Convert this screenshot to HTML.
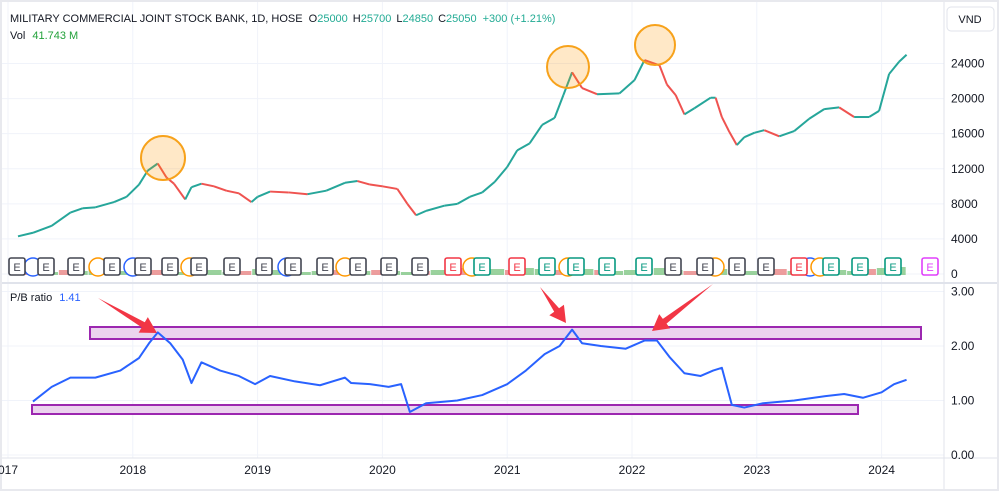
<!DOCTYPE html>
<html><head><meta charset="utf-8"><style>
body{margin:0;background:#fff;font-family:"Liberation Sans",sans-serif}
svg{display:block}
text{font-family:"Liberation Sans",sans-serif}
</style></head><body>
<svg id="c" width="999" height="491" viewBox="0 0 999 491">
<rect x="0" y="0" width="999" height="491" fill="#fff"/>
<g id="grid"></g>
<g id="vol"></g>
<g id="bands"></g>
<g id="price"></g>
<g id="pb"></g>
<g id="marks"></g>
<line x1="0" y1="283" x2="999" y2="283" stroke="#e0e3eb" stroke-width="2"/>
<line x1="944" y1="0" x2="944" y2="491" stroke="#e0e3eb"/>
<line x1="0" y1="458" x2="999" y2="458" stroke="#e0e3eb"/>
<rect x="0.5" y="0.5" width="998" height="490" fill="none" stroke="#e8e9ee" stroke-width="3"/>
<text x="10" y="22" font-size="11" fill="#131722">MILITARY COMMERCIAL JOINT STOCK BANK, 1D, HOSE <tspan dx="3">O</tspan><tspan fill="#22ab94">25000</tspan><tspan dx="5">H</tspan><tspan fill="#22ab94">25700</tspan><tspan dx="5">L</tspan><tspan fill="#22ab94">24850</tspan><tspan dx="5">C</tspan><tspan fill="#22ab94">25050</tspan><tspan dx="6" fill="#22ab94">+300 (+1.21%)</tspan></text>
<text x="10" y="39" font-size="11" fill="#131722">Vol <tspan dx="4" fill="#22a13a">41.743 M</tspan></text>
<text x="10" y="301" font-size="11" fill="#131722">P/B ratio <tspan dx="4" fill="#2962ff">1.41</tspan></text>
<rect x="947" y="7" width="47" height="24" rx="4" fill="#fff" stroke="#e0e3eb"/>
<text x="970" y="23" font-size="11" text-anchor="middle" fill="#131722">VND</text>
<g id="axes"></g>
</svg>
<script>
const NS="http://www.w3.org/2000/svg";
const priceDates=[2017.08,2017.2,2017.35,2017.5,2017.6,2017.7,2017.85,2017.95,2018.05,2018.12,2018.2,2018.27,2018.33,2018.42,2018.47,2018.55,2018.65,2018.75,2018.85,2018.95,2019.0,2019.1,2019.25,2019.4,2019.55,2019.7,2019.8,2019.9,2020.0,2020.12,2020.2,2020.27,2020.35,2020.5,2020.6,2020.7,2020.8,2020.9,2021.0,2021.08,2021.18,2021.28,2021.38,2021.45,2021.52,2021.6,2021.72,2021.9,2022.02,2022.1,2022.22,2022.28,2022.35,2022.42,2022.5,2022.63,2022.67,2022.72,2022.78,2022.84,2022.9,2022.98,2023.06,2023.18,2023.3,2023.42,2023.54,2023.66,2023.78,2023.9,2023.98,2024.06,2024.14,2024.2];
const priceVals=[4300,4700,5500,7000,7500,7600,8200,8800,10200,11800,12600,11000,10300,8500,9900,10300,10000,9500,9200,8200,8800,9400,9300,9100,9500,10400,10600,10200,10000,9700,8000,6700,7200,7800,8000,8800,9300,10500,12200,14100,14900,17000,17800,20400,23000,21200,20500,20600,22100,24400,23800,21600,20400,18200,18900,20100,20100,17900,16200,14700,15600,16100,16400,15700,16300,17700,18800,19000,17900,17900,18600,22800,24200,25000];
const pbDates=[2017.2,2017.35,2017.5,2017.7,2017.9,2018.05,2018.13,2018.2,2018.3,2018.4,2018.47,2018.55,2018.7,2018.85,2018.98,2019.1,2019.3,2019.5,2019.7,2019.75,2019.9,2020.05,2020.15,2020.22,2020.35,2020.5,2020.6,2020.8,2021.0,2021.15,2021.3,2021.42,2021.52,2021.6,2021.75,2021.95,2022.1,2022.2,2022.3,2022.42,2022.55,2022.65,2022.72,2022.8,2022.9,2023.05,2023.3,2023.55,2023.7,2023.85,2024.0,2024.1,2024.2];
const pbVals=[0.98,1.25,1.42,1.42,1.55,1.78,2.05,2.25,2.05,1.75,1.32,1.7,1.55,1.45,1.3,1.45,1.35,1.28,1.42,1.32,1.3,1.25,1.3,0.79,0.95,0.98,1.0,1.1,1.3,1.55,1.85,2.0,2.3,2.05,2.0,1.95,2.1,2.1,1.8,1.5,1.45,1.55,1.6,0.92,0.87,0.95,1.0,1.08,1.12,1.05,1.15,1.3,1.38];
const priceTicks=[0,4000,8000,12000,16000,20000,24000];
const pbTicks=[0,1,2,3];
const years=[2017,2018,2019,2020,2021,2022,2023,2024];
const volVals=[3,4,3,5,4,6,5,4,3,5,4,3,4,5,3,4,6,5,4,3,4,5,6,4,5,4,3,4,5,6,7,8,6,5,7,6,5,4,6,5,4,5,6,7,5,4,5,6,5,4,5,6,4,5,6,5,4,6,7,8];
const x=t=>8+(t-2017)*124.8;
const yP=v=>274-v*0.00877;
const yB=v=>455-v*54.5;
function el(tag,attrs,parent,txt){const e=document.createElementNS(NS,tag);for(const k in attrs)e.setAttribute(k,attrs[k]);if(txt!==undefined)e.textContent=txt;document.getElementById(parent).appendChild(e);return e;}
years.forEach(yr=>{
 const l=el('line',{x1:x(yr),x2:x(yr),y1:0,y2:458,stroke:'#f0f3fa'},'grid');
 
 
 const t=el('text',{x:x(yr),y:474,'font-size':12,'text-anchor':'middle',fill:'#131722'},'axes',String(yr).slice(yr===2017?1:0));
 
 
});
priceTicks.forEach(v=>{
 el('line',{x1:0,x2:944,y1:yP(v),y2:yP(v),stroke:'#f0f3fa'},'grid');
 const t=el('text',{x:951,y:yP(v)+4,'font-size':12,fill:'#131722'},'axes',String(v));
 
 
});
pbTicks.forEach(v=>{
 el('line',{x1:0,x2:944,y1:yB(v),y2:yB(v),stroke:'#f0f3fa'},'grid');
 const t=el('text',{x:951,y:yB(v)+4,'font-size':12,fill:'#131722'},'axes',v.toFixed(2));
 
 
});
volVals.forEach((v,i)=>{
 const t=2017.05+i*(2024.2-2017.05)/volVals.length;
 const b=el('rect',{x:x(t),y:275-v,width:14,height:v,fill:i%3?'#6fbf73':'#e57373',opacity:0.7},'vol');
 
 
});
for(let i=1;i<priceDates.length;i++){
 const up=priceVals[i]>=priceVals[i-1];
 const s=el('line',{x1:x(priceDates[i-1]),y1:yP(priceVals[i-1]),x2:x(priceDates[i]),y2:yP(priceVals[i]),stroke:up?'#26a69a':'#ef5350','stroke-width':2},'price');
 
 
}
const pl=el('polyline',{points:pbDates.map((d,i)=>x(d)+','+yB(pbVals[i])).join(' '),fill:'none',stroke:'#2962ff','stroke-width':2,'stroke-linejoin':'round'},'pb');


[[163,158,22],[568,67,21],[655,45,20]].forEach(c=>{
 const e=el('circle',{cx:c[0],cy:c[1],r:c[2],fill:'rgba(255,152,0,0.22)',stroke:'#f7a21b','stroke-width':2},'marks');
 
 
});
[[90,327,831,12],[32,405,826,9]].forEach(r=>{
 const e=el('rect',{x:r[0],y:r[1],width:r[2],height:r[3],fill:'#ebd3ee',stroke:'#9c27b0','stroke-width':2},'bands');
 
 
});
[[98,298,157,333],[540,287,566,323],[713,284,652,331]].forEach(a=>{
 const dx=a[2]-a[0],dy=a[3]-a[1],L=Math.hypot(dx,dy),ux=dx/L,uy=dy/L,px=-uy,py=ux;
 const bx=a[2]-ux*16,by=a[3]-uy*16;
 const pts=[[a[0],a[1]],[bx+px*3,by+py*3],[bx+px*9,by+py*9],[a[2],a[3]],[bx-px*9,by-py*9],[bx-px*3,by-py*3]];
 const e=el('polygon',{points:pts.map(p=>p.join(',')).join(' '),fill:'#f23645'},'marks');
 
 
});
const ek=[[17,'d'],[46,'d'],[76,'d'],[112,'d'],[143,'d'],[170,'d'],[199,'d'],[232,'d'],[264,'d'],[293,'d'],[325,'d'],[358,'d'],[389,'d'],[420,'d'],[453,'r'],[482,'g'],[517,'r'],[547,'g'],[576,'g'],[607,'g'],[644,'g'],[673,'d'],[705,'d'],[737,'d'],[766,'d'],[799,'r'],[831,'g'],[860,'g'],[893,'g'],[930,'m']];
[[33,'#2962ff'],[98,'#ff9800'],[133,'#2962ff'],[190,'#ff9800'],[287,'#2962ff'],[345,'#ff9800'],[472,'#ff9800'],[568,'#ff9800'],[715,'#ff9800'],[810,'#2962ff'],[820,'#ff9800']].forEach(c=>{
 const e=el('circle',{cx:c[0],cy:267,r:9,fill:'#fff',stroke:c[1],'stroke-width':1.5},'marks');
 
 
});
const col={d:'#434651',r:'#f23645',g:'#089981',m:'#e040fb'};
ek.forEach(m=>{
 const c=col[m[1]];
 const e=el('rect',{x:m[0]-8,y:258,width:16,height:17,rx:2,fill:'#fff',stroke:c,'stroke-width':1.6},'marks');
 
 
 el('text',{x:m[0],y:271,'font-size':11,'text-anchor':'middle',fill:c},'marks','E');
});
</script>
</body></html>
